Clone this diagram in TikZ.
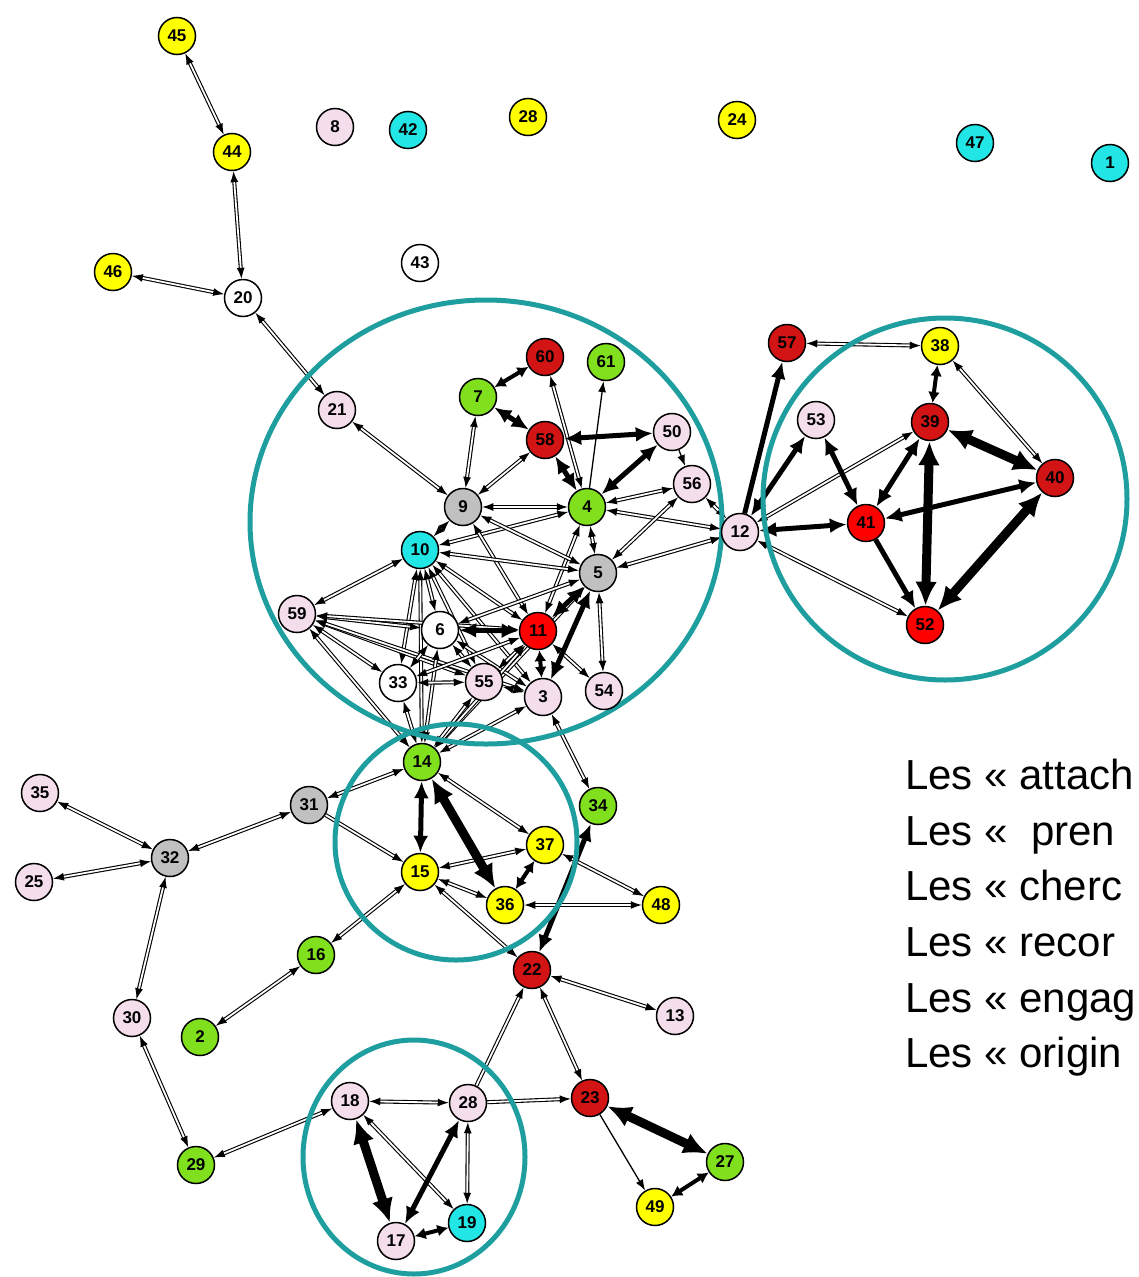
\documentclass[tikz,border=0pt]{standalone}
\usepackage{fontspec}
\setmainfont{Liberation Sans}
\usetikzlibrary{arrows.meta}
\pgfdeclarelayer{edges}
\pgfdeclarelayer{rings}
\pgfsetlayers{edges,rings,main}
\definecolor{cyn}{HTML}{22E6E6}
\definecolor{yel}{HTML}{FFFF00}
\definecolor{grn}{HTML}{80E01E}
\definecolor{rd}{HTML}{FF0000}
\definecolor{drd}{HTML}{D21414}
\definecolor{pnk}{HTML}{F4DEEC}
\definecolor{gry}{HTML}{C0C0C0}
\definecolor{ring}{HTML}{1E9E9E}
\begin{document}
\begin{tikzpicture}[x=1pt,y=-1pt,
  nd/.style={circle,draw=black,line width=1.5pt,minimum size=37pt,inner sep=0pt,
    font=\bfseries\fontsize{17}{17}\selectfont},
  dl/.style={draw=black,line width=1.1pt,double=white,double distance=1.8pt,
    arrows={Latex[length=11pt,width=8pt]-Latex[length=11pt,width=8pt]}},
  dlr/.style={draw=black,line width=1.1pt,double=white,double distance=1.8pt,
    arrows={-Latex[length=11pt,width=8pt]}},
  th/.style={draw=black,line width=5pt,
    arrows={Latex[length=17pt,width=15pt]-Latex[length=17pt,width=15pt]}},
  tsh/.style={draw=black,line width=4pt,
    arrows={Latex[length=11pt,width=12pt]-Latex[length=11pt,width=12pt]}},
  thr/.style={draw=black,line width=5pt,arrows={-Latex[length=17pt,width=15pt]}},
  vth/.style={draw=black,line width=9pt,
    arrows={Latex[length=24pt,width=22pt]-Latex[length=24pt,width=22pt]}},
  sl/.style={draw=black,line width=1.3pt,arrows={-Latex[length=11pt,width=8pt]}},
  rg/.style={draw=ring,line width=5pt},
  txt/.style={font=\fontsize{42}{50}\selectfont,anchor=base west,inner sep=0pt}]
\useasboundingbox (0,0) rectangle (1138,1277);
\begin{pgfonlayer}{edges}
\fill[white] (0,0) rectangle (1138,1277);
\end{pgfonlayer}
% nodes
\node[nd,fill=yel] (n45) at (177,36) {45};
\node[nd,fill=yel] (n44) at (232,152) {44};
\node[nd,fill=pnk] (n8) at (335,127) {8};
\node[nd,fill=cyn] (n42) at (408,130) {42};
\node[nd,fill=yel] (n26) at (528,117) {28};
\node[nd,fill=yel] (n24) at (737,120) {24};
\node[nd,fill=cyn] (n47) at (975,143) {47};
\node[nd,fill=cyn] (n1) at (1110,163) {1};
\node[nd,fill=white] (n43) at (420,263) {43};
\node[nd,fill=yel] (n46) at (113,272) {46};
\node[nd,fill=white] (n20) at (243,298) {20};
\node[nd,fill=pnk] (n21) at (337,410) {21};
\node[nd,fill=grn] (n7) at (478,397) {7};
\node[nd,fill=drd] (n60) at (545,357) {60};
\node[nd,fill=grn] (n61) at (606,362) {61};
\node[nd,fill=drd] (n58) at (545,440) {58};
\node[nd,fill=pnk] (n50) at (672,432) {50};
\node[nd,fill=pnk] (n56) at (692,484) {56};
\node[nd,fill=gry] (n9) at (463,507) {9};
\node[nd,fill=grn] (n4) at (587,507) {4};
\node[nd,fill=cyn] (n10) at (420,550) {10};
\node[nd,fill=gry] (n5) at (598,573) {5};
\node[nd,fill=pnk] (n12) at (740,532) {12};
\node[nd,fill=pnk] (n59) at (297,614) {59};
\node[nd,fill=white] (n6) at (440,630) {6};
\node[nd,fill=rd] (n11) at (538,631) {11};
\node[nd,fill=white] (n33) at (398,683) {33};
\node[nd,fill=pnk] (n55) at (484,682) {55};
\node[nd,fill=pnk] (n3) at (543,697) {3};
\node[nd,fill=pnk] (n54) at (604,691) {54};
\node[nd,fill=drd] (n57) at (787,343) {57};
\node[nd,fill=yel] (n38) at (940,346) {38};
\node[nd,fill=pnk] (n53) at (816,420) {53};
\node[nd,fill=drd] (n39) at (930,422) {39};
\node[nd,fill=drd] (n40) at (1055,478) {40};
\node[nd,fill=rd] (n41) at (866,523) {41};
\node[nd,fill=rd] (n52) at (925,625) {52};
\node[nd,fill=grn] (n14) at (422,762) {14};
\node[nd,fill=grn] (n34) at (598,806) {34};
\node[nd,fill=gry] (n31) at (309,805) {31};
\node[nd,fill=yel] (n37) at (545,845) {37};
\node[nd,fill=yel] (n15) at (420,872) {15};
\node[nd,fill=yel] (n36) at (505,905) {36};
\node[nd,fill=yel] (n48) at (661,905) {48};
\node[nd,fill=pnk] (n35) at (40,793) {35};
\node[nd,fill=gry] (n32) at (170,858) {32};
\node[nd,fill=pnk] (n25) at (34,882) {25};
\node[nd,fill=grn] (n16) at (316,955) {16};
\node[nd,fill=drd] (n22) at (532,970) {22};
\node[nd,fill=pnk] (n13) at (675,1016) {13};
\node[nd,fill=pnk] (n30) at (132,1018) {30};
\node[nd,fill=grn] (n2) at (200,1037) {2};
\node[nd,fill=pnk] (n18) at (350,1101) {18};
\node[nd,fill=pnk] (n28) at (468,1103) {28};
\node[nd,fill=drd] (n23) at (590,1098) {23};
\node[nd,fill=grn] (n29) at (196,1165) {29};
\node[nd,fill=grn] (n27) at (725,1162) {27};
\node[nd,fill=yel] (n49) at (655,1207) {49};
\node[nd,fill=pnk] (n17) at (396,1241) {17};
\node[nd,fill=cyn] (n19) at (467,1223) {19};
% rings
\begin{pgfonlayer}{rings}
\draw[rg] (486,522) ellipse [x radius=236pt,y radius=222pt];
\draw[rg] (945,499) ellipse [x radius=182pt,y radius=181pt];
\draw[rg] (456,842) ellipse [x radius=121pt,y radius=118pt];
\draw[rg] (414,1157) ellipse [x radius=111pt,y radius=117pt];
\end{pgfonlayer}
% edges
\begin{pgfonlayer}{edges}
\foreach \a/\b in {45/44,44/20,46/20,20/21,21/9,7/9,58/9,60/4,4/56,9/4,4/10,4/12,4/5,4/11,
  56/5,56/12,9/10,9/5,9/11,10/5,10/59,10/6,10/33,10/55,10/11,10/3,10/14,5/12,5/54,5/6,5/14,
  59/6,59/11,59/33,59/55,59/3,59/14,6/33,6/55,6/14,6/3,11/54,11/55,11/33,11/14,33/55,33/14,
  55/14,55/3,3/14,3/34,12/39,12/52,57/38,38/40,14/31,14/37,31/32,32/35,32/25,32/30,30/29,
  15/16,16/2,15/37,15/36,15/22,36/48,37/48,22/13,22/23,18/28,18/29,18/19,28/19}
  \draw[dl] (n\a) -- (n\b);
\foreach \a/\b in {31/15,28/22,28/23}
  \draw[dlr] (n\a) -- (n\b);
\foreach \a/\b in {7/58,58/4,58/50,4/50,5/11,5/3,6/11,12/53,12/41,53/41,
  39/41,41/40,14/15,34/22,28/17}
  \draw[th] (n\a) -- (n\b);
\foreach \a/\b in {7/60,11/3,38/39,37/36,17/19,49/27}
  \draw[tsh] (n\a) -- (n\b);
\foreach \a/\b in {12/57,41/52}
  \draw[thr] (n\a) -- (n\b);
\foreach \a/\b in {39/40,39/52,40/52,14/36,18/17,23/27}
  \draw[vth] (n\a) -- (n\b);
\foreach \a/\b in {4/61,23/49,50/56}
  \draw[sl] (n\a) -- (n\b);
\end{pgfonlayer}
% text
\node[txt] (t1) at (905,789) {Les « attach};
\node[txt] (t2) at (905,845) {Les «\ \ pren};
\node[txt] (t3) at (905,900) {Les « cherc};
\node[txt] (t4) at (905,956) {Les « recor};
\node[txt] (t5) at (905,1012) {Les « engag};
\node[txt] (t6) at (905,1067) {Les « origin};
\end{tikzpicture}
\end{document}
